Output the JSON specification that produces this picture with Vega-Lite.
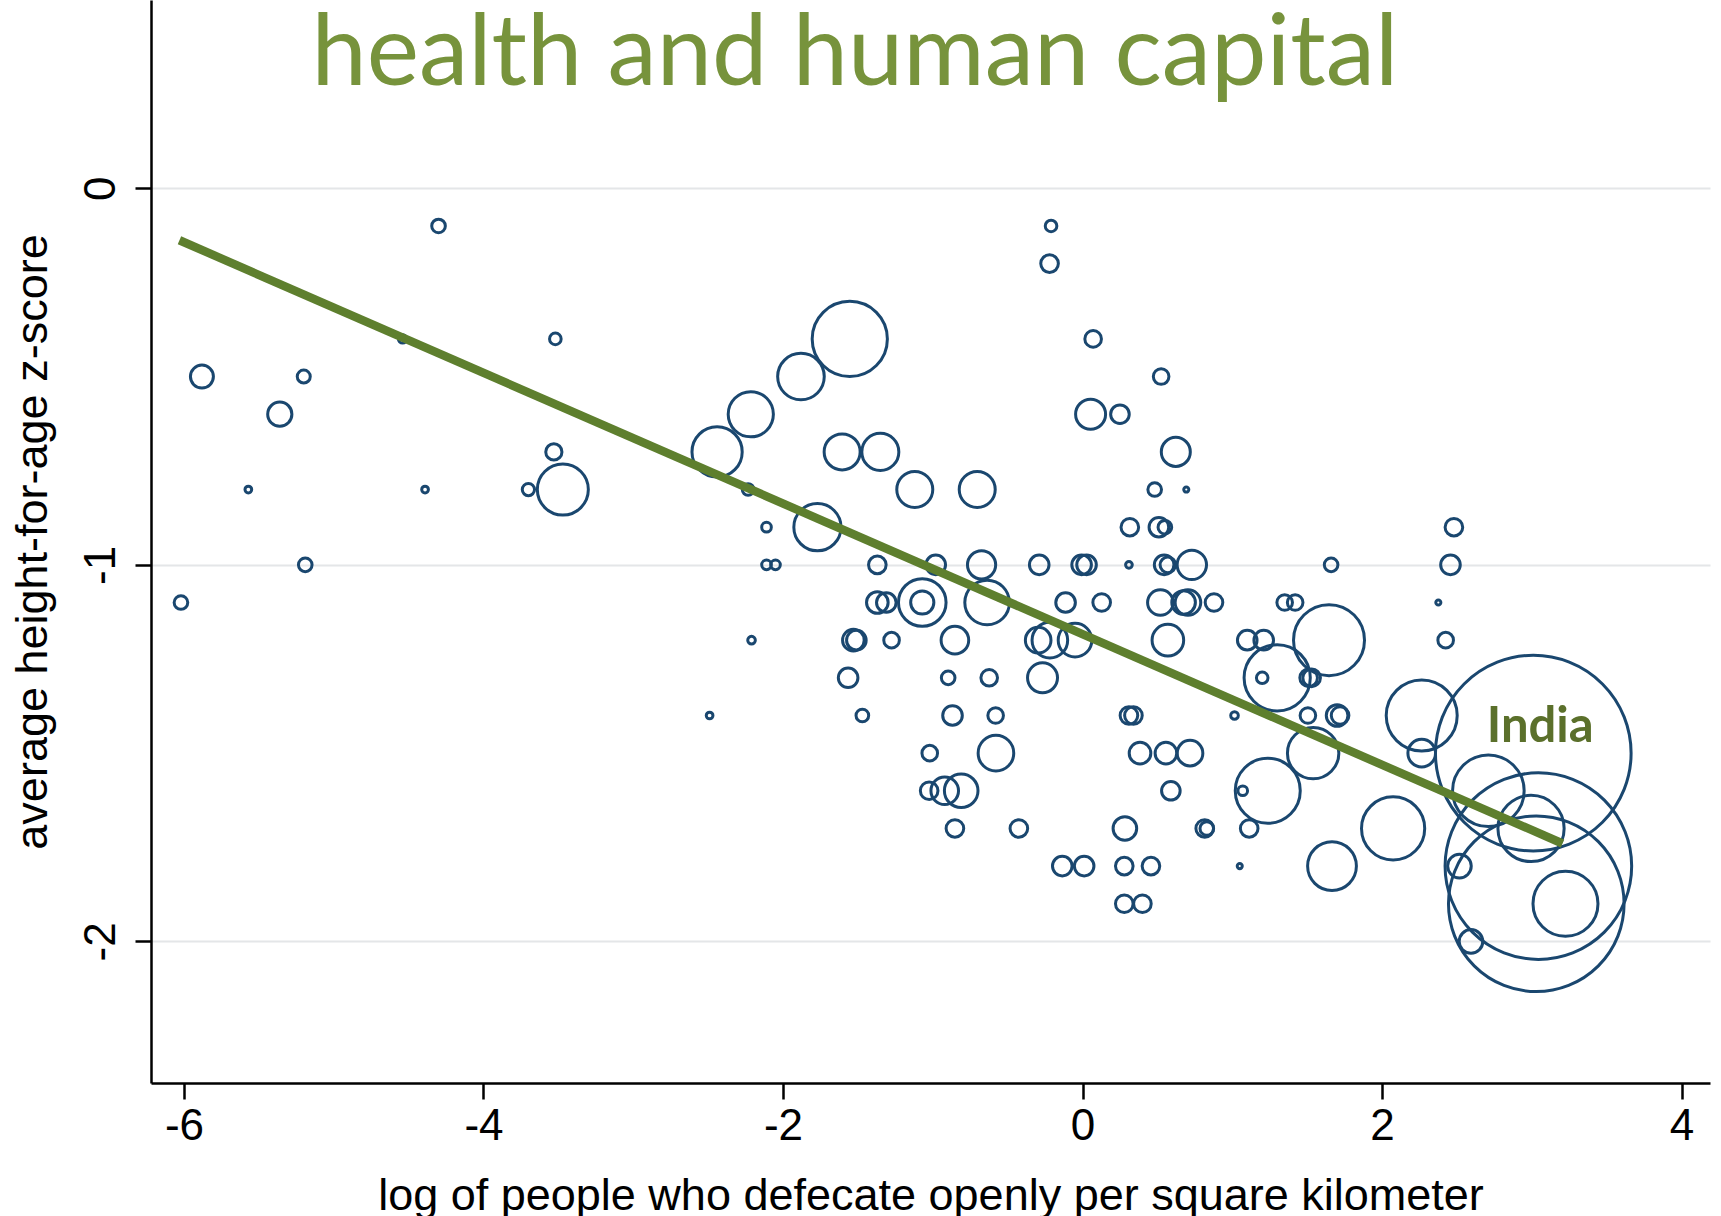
{
  "$schema": "https://vega.github.io/schema/vega-lite/v6.json",
  "width": 1559,
  "height": 1083,
  "autosize": {"type": "none"},
  "padding": {"left": 151, "top": 0, "right": 11, "bottom": 133},
  "background": "white",
  "config": {"view": {"stroke": null}},
  "datasets": {
    "points": [
      {"x": -4.30, "y": -0.1, "pop": 5.8},
      {"x": -0.21, "y": -0.1, "pop": 4.2},
      {"x": -0.22, "y": -0.2, "pop": 9.7},
      {"x": -4.54, "y": -0.4, "pop": 2.2},
      {"x": -3.52, "y": -0.4, "pop": 4.2},
      {"x": -1.554, "y": -0.4, "pop": 176.7},
      {"x": 0.071, "y": -0.4, "pop": 8.6},
      {"x": -5.88, "y": -0.5, "pop": 16.5},
      {"x": -5.20, "y": -0.5, "pop": 5.3},
      {"x": -1.88, "y": -0.5, "pop": 67.9},
      {"x": 0.525, "y": -0.5, "pop": 7.6},
      {"x": -5.36, "y": -0.6, "pop": 18.3},
      {"x": -2.215, "y": -0.6, "pop": 63.8},
      {"x": 0.054, "y": -0.6, "pop": 28.1},
      {"x": 0.25, "y": -0.6, "pop": 10.8},
      {"x": -3.53, "y": -0.7, "pop": 8.2},
      {"x": -2.44, "y": -0.7, "pop": 78.8},
      {"x": -1.605, "y": -0.7, "pop": 40.5},
      {"x": -1.35, "y": -0.7, "pop": 42.8},
      {"x": 0.623, "y": -0.7, "pop": 26.3},
      {"x": -5.57, "y": -0.8, "pop": 1.4},
      {"x": -4.39, "y": -0.8, "pop": 1.4},
      {"x": -3.70, "y": -0.8, "pop": 4.7},
      {"x": -3.47, "y": -0.8, "pop": 81.3},
      {"x": -2.233, "y": -0.8, "pop": 4.2},
      {"x": -1.12, "y": -0.8, "pop": 40.5},
      {"x": -0.703, "y": -0.8, "pop": 40.5},
      {"x": 0.482, "y": -0.8, "pop": 5.8},
      {"x": 0.693, "y": -0.8, "pop": 0.8},
      {"x": -2.11, "y": -0.9, "pop": 2.9},
      {"x": -1.77, "y": -0.9, "pop": 69.6},
      {"x": 0.316, "y": -0.9, "pop": 9.7},
      {"x": 0.51, "y": -0.9, "pop": 12.0},
      {"x": 0.55, "y": -0.9, "pop": 5.8},
      {"x": 2.48, "y": -0.9, "pop": 9.7},
      {"x": -5.19, "y": -1.0, "pop": 5.8},
      {"x": -2.11, "y": -1.0, "pop": 2.9},
      {"x": -2.05, "y": -1.0, "pop": 2.9},
      {"x": -1.37, "y": -1.0, "pop": 9.7},
      {"x": -0.98, "y": -1.0, "pop": 12.0},
      {"x": -0.674, "y": -1.0, "pop": 24.9},
      {"x": -0.289, "y": -1.0, "pop": 12.0},
      {"x": -0.006, "y": -1.0, "pop": 12.0},
      {"x": 0.027, "y": -1.0, "pop": 12.0},
      {"x": 0.31, "y": -1.0, "pop": 1.4},
      {"x": 0.545, "y": -1.0, "pop": 12.0},
      {"x": 0.57, "y": -1.0, "pop": 7.6},
      {"x": 0.73, "y": -1.0, "pop": 27.0},
      {"x": 1.66, "y": -1.0, "pop": 5.8},
      {"x": 2.457, "y": -1.0, "pop": 12.0},
      {"x": -6.02, "y": -1.1, "pop": 5.8},
      {"x": -1.37, "y": -1.1, "pop": 14.6},
      {"x": -1.31, "y": -1.1, "pop": 12.0},
      {"x": -1.07, "y": -1.1, "pop": 70.8},
      {"x": -1.07, "y": -1.1, "pop": 16.8},
      {"x": -0.637, "y": -1.1, "pop": 62.2},
      {"x": -0.113, "y": -1.1, "pop": 12.0},
      {"x": 0.128, "y": -1.1, "pop": 9.7},
      {"x": 0.52, "y": -1.1, "pop": 20.5},
      {"x": 0.675, "y": -1.1, "pop": 17.4},
      {"x": 0.704, "y": -1.1, "pop": 20.5},
      {"x": 0.878, "y": -1.1, "pop": 9.7},
      {"x": 1.35, "y": -1.1, "pop": 7.6},
      {"x": 1.42, "y": -1.1, "pop": 7.6},
      {"x": 2.376, "y": -1.1, "pop": 0.8},
      {"x": -2.21, "y": -1.2, "pop": 1.8},
      {"x": -1.53, "y": -1.2, "pop": 14.6},
      {"x": -1.51, "y": -1.2, "pop": 12.0},
      {"x": -1.275, "y": -1.2, "pop": 7.6},
      {"x": -0.852, "y": -1.2, "pop": 23.8},
      {"x": -0.296, "y": -1.2, "pop": 20.5},
      {"x": -0.218, "y": -1.2, "pop": 39.6},
      {"x": -0.05, "y": -1.2, "pop": 35.3},
      {"x": 0.57, "y": -1.2, "pop": 31.2},
      {"x": 1.10, "y": -1.2, "pop": 12.0},
      {"x": 1.21, "y": -1.2, "pop": 12.0},
      {"x": 1.646, "y": -1.2, "pop": 157.5},
      {"x": 2.425, "y": -1.2, "pop": 7.6},
      {"x": -1.565, "y": -1.3, "pop": 12.0},
      {"x": -0.897, "y": -1.3, "pop": 5.8},
      {"x": -0.623, "y": -1.3, "pop": 8.6},
      {"x": -0.267, "y": -1.3, "pop": 28.1},
      {"x": 1.20, "y": -1.3, "pop": 4.2},
      {"x": 1.30, "y": -1.3, "pop": 137},
      {"x": 1.51, "y": -1.3, "pop": 9.7},
      {"x": 1.53, "y": -1.3, "pop": 9.7},
      {"x": -2.49, "y": -1.4, "pop": 1.4},
      {"x": -1.47, "y": -1.4, "pop": 5.0},
      {"x": -0.868, "y": -1.4, "pop": 12.0},
      {"x": -0.58, "y": -1.4, "pop": 7.6},
      {"x": 0.31, "y": -1.4, "pop": 9.7},
      {"x": 0.34, "y": -1.4, "pop": 9.7},
      {"x": 1.015, "y": -1.4, "pop": 1.8},
      {"x": 1.505, "y": -1.4, "pop": 7.6},
      {"x": 1.70, "y": -1.4, "pop": 14.6},
      {"x": 1.72, "y": -1.4, "pop": 9.7},
      {"x": 2.265, "y": -1.4, "pop": 157.5},
      {"x": -1.02, "y": -1.5, "pop": 7.6},
      {"x": -0.578, "y": -1.5, "pop": 39.6},
      {"x": 0.384, "y": -1.5, "pop": 14.6},
      {"x": 0.557, "y": -1.5, "pop": 14.6},
      {"x": 0.718, "y": -1.5, "pop": 20.5},
      {"x": 1.54, "y": -1.5, "pop": 82.6},
      {"x": 2.265, "y": -1.5, "pop": 23.8},
      {"x": 3.01, "y": -1.5, "pop": 1196},
      {"x": -1.024, "y": -1.6, "pop": 9.7},
      {"x": -0.92, "y": -1.6, "pop": 23.8},
      {"x": -0.81, "y": -1.6, "pop": 35.3},
      {"x": 0.59, "y": -1.6, "pop": 10.8},
      {"x": 1.07, "y": -1.6, "pop": 2.9},
      {"x": 1.237, "y": -1.6, "pop": 132},
      {"x": 2.71, "y": -1.6, "pop": 160.2},
      {"x": -0.852, "y": -1.7, "pop": 9.7},
      {"x": -0.425, "y": -1.7, "pop": 9.7},
      {"x": 0.283, "y": -1.7, "pop": 17.4},
      {"x": 0.816, "y": -1.7, "pop": 9.7},
      {"x": 0.83, "y": -1.7, "pop": 5.8},
      {"x": 1.113, "y": -1.7, "pop": 9.7},
      {"x": 2.074, "y": -1.7, "pop": 124.8},
      {"x": 2.995, "y": -1.7, "pop": 137},
      {"x": -0.135, "y": -1.8, "pop": 12.0},
      {"x": 0.011, "y": -1.8, "pop": 12.0},
      {"x": 0.279, "y": -1.8, "pop": 9.7},
      {"x": 0.457, "y": -1.8, "pop": 9.7},
      {"x": 1.05, "y": -1.8, "pop": 0.8},
      {"x": 1.666, "y": -1.8, "pop": 74.4},
      {"x": 2.517, "y": -1.8, "pop": 17.4},
      {"x": 3.044, "y": -1.8, "pop": 1088},
      {"x": 0.279, "y": -1.9, "pop": 9.7},
      {"x": 0.40, "y": -1.9, "pop": 9.7},
      {"x": 3.225, "y": -1.9, "pop": 132},
      {"x": 3.03, "y": -1.9, "pop": 963.6},
      {"x": 2.594, "y": -2.0, "pop": 17.4}
    ],
    "fit": [
      {"x": -6.03, "y": -0.138},
      {"x": 3.205, "y": -1.740}
    ],
    "labels": [
      {"x": 3.056, "y": -1.47, "name": "India"}
    ],
    "heading": [
      {"x": -1.52, "y": 0.275, "name": "health and human capital"}
    ]
  },
  "encoding": {
    "x": {
      "field": "x",
      "type": "quantitative",
      "scale": {"domain": [-6.22, 4.19], "nice": false, "zero": false},
      "axis": {
        "values": [-6, -4, -2, 0, 2, 4],
        "labelExpr": "replace(datum.label, '\u2212', '-')",
        "title": "log of people who defecate openly per square kilometer",
        "grid": false,
        "domainColor": "black",
        "domainWidth": 2.5,
        "tickColor": "black",
        "tickWidth": 2.5,
        "tickSize": 16,
        "labelFont": "Liberation Sans",
        "labelFontSize": 44,
        "labelColor": "black",
        "labelPadding": 5,
        "labelFlush": false,
        "labelOverlap": false,
        "titleFont": "Liberation Sans",
        "titleFontSize": 45,
        "titleFontWeight": "normal",
        "titleColor": "black",
        "titlePadding": 25
      }
    },
    "y": {
      "field": "y",
      "type": "quantitative",
      "scale": {"domain": [-2.376, 0.5], "nice": false, "zero": false},
      "axis": {
        "values": [0, -1, -2],
        "labelExpr": "replace(datum.label, '\u2212', '-')",
        "title": "average height-for-age z-score",
        "grid": true,
        "gridColor": "#E4E6E8",
        "gridWidth": 2,
        "domainColor": "black",
        "domainWidth": 2.5,
        "tickColor": "black",
        "tickWidth": 2.5,
        "tickSize": 16,
        "labelFont": "Liberation Sans",
        "labelFontSize": 44,
        "labelColor": "black",
        "labelAngle": 270,
        "labelAlign": "center",
        "labelBaseline": "alphabetic",
        "labelPadding": 21,
        "labelFlush": false,
        "labelOverlap": false,
        "titleFont": "Liberation Sans",
        "titleFontSize": 45,
        "titleFontWeight": "normal",
        "titleColor": "black",
        "titlePadding": 24
      }
    }
  },
  "layer": [
    {
      "data": {"name": "points"},
      "mark": {"type": "point", "shape": "circle", "filled": false, "strokeWidth": 3, "color": "#1A476F", "opacity": 1},
      "encoding": {
        "size": {"field": "pop", "type": "quantitative", "scale": {"type": "linear", "domain": [0, 1200], "range": [0, 38400], "zero": true}, "legend": null}
      }
    },
    {
      "data": {"name": "fit"},
      "mark": {"type": "line", "color": "#5E7F2E", "strokeWidth": 8.5, "strokeCap": "butt"},
      "encoding": {}
    },
    {
      "data": {"name": "labels"},
      "mark": {"type": "text", "font": "Lato", "fontWeight": "bold", "fontSize": 49, "color": "#5B702B", "align": "center", "baseline": "alphabetic"},
      "encoding": {"text": {"field": "name"}}
    },
    {
      "data": {"name": "heading"},
      "mark": {"type": "text", "font": "Lato", "fontWeight": "normal", "fontSize": 99, "color": "#77933C", "align": "center", "baseline": "alphabetic"},
      "encoding": {"text": {"field": "name"}}
    }
  ]
}
